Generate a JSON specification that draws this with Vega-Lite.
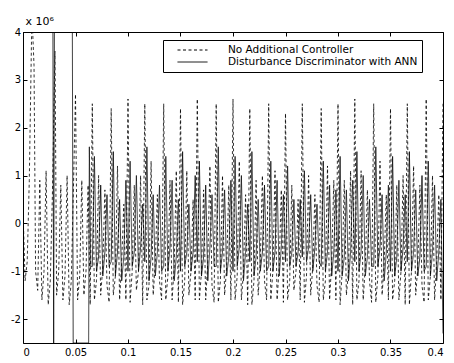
{
  "$schema": "https://vega.github.io/schema/vega-lite/v6.json",
  "width": 420,
  "height": 311,
  "autosize": {"type": "none"},
  "padding": {"left": 23, "top": 32, "right": 11, "bottom": 20},
  "background": "#ffffff",
  "datasets": {
    "nac": [
      {"x":0,"y":0.3},{"x":0.002,"y":-1.2},{"x":0.004,"y":-0.8},{"x":0.006,"y":0.9},{"x":0.0085,"y":4.4},{"x":0.0105,"y":3.3},{"x":0.012,"y":-1.0},{"x":0.014,"y":-1.4},{"x":0.016,"y":0.9},{"x":0.018,"y":-1.6},{"x":0.02,"y":-1.0},{"x":0.022,"y":1.1},{"x":0.024,"y":-1.7},{"x":0.026,"y":-1.2},{"x":0.028,"y":0.6},{"x":0.0305,"y":3.6},{"x":0.032,"y":-1.5},{"x":0.034,"y":-1.0},{"x":0.036,"y":0.8},{"x":0.038,"y":-1.6},{"x":0.04,"y":-1.1},{"x":0.042,"y":1.0},{"x":0.044,"y":-1.7},{"x":0.046,"y":-1.2},{"x":0.048,"y":0.7},{"x":0.05,"y":2.7},{"x":0.052,"y":-1.6},{"x":0.054,"y":-1.1},{"x":0.056,"y":0.9},{"x":0.058,"y":-1.5},{"x":0.06,"y":-1.0},{"x":0.062,"y":0.8},{"x":0.064,"y":-1.7},
      {"x":0.066,"y":2.5},{"x":0.068,"y":-1.6},{"x":0.07,"y":-1.2},{"x":0.072,"y":1.0},{"x":0.074,"y":-1.5},{"x":0.076,"y":-0.9},{"x":0.078,"y":0.7},{"x":0.08,"y":-1.3},{"x":0.082,"y":-1.65},
      {"x":0.084,"y":2.4},{"x":0.086,"y":-1.5},{"x":0.088,"y":-1.1},{"x":0.09,"y":1.2},{"x":0.092,"y":-1.6},{"x":0.094,"y":-0.8},{"x":0.096,"y":0.4},{"x":0.098,"y":-1.6},
      {"x":0.1,"y":2.6},{"x":0.102,"y":-1.65},{"x":0.104,"y":-1.0},{"x":0.106,"y":0.8},{"x":0.108,"y":-1.4},{"x":0.11,"y":-1.0},{"x":0.112,"y":1.0},{"x":0.114,"y":-1.7},
      {"x":0.116,"y":2.5},{"x":0.118,"y":-1.6},{"x":0.12,"y":-1.3},{"x":0.122,"y":1.3},{"x":0.124,"y":-1.5},{"x":0.126,"y":-0.8},{"x":0.128,"y":0.6},{"x":0.13,"y":-1.2},{"x":0.132,"y":-1.6},
      {"x":0.134,"y":2.5},{"x":0.136,"y":-1.6},{"x":0.138,"y":-1.1},{"x":0.14,"y":0.9},{"x":0.142,"y":-1.6},{"x":0.144,"y":-0.9},{"x":0.146,"y":1.1},{"x":0.148,"y":-1.65},
      {"x":0.15,"y":2.4},{"x":0.152,"y":-1.7},{"x":0.154,"y":-1.2},{"x":0.156,"y":1.1},{"x":0.158,"y":-1.5},{"x":0.16,"y":-1.0},{"x":0.162,"y":0.5},{"x":0.164,"y":-1.6},
      {"x":0.166,"y":2.6},{"x":0.168,"y":-1.6},{"x":0.17,"y":-1.0},{"x":0.172,"y":0.7},{"x":0.174,"y":-1.6},{"x":0.176,"y":-0.8},{"x":0.178,"y":1.2},{"x":0.18,"y":-1.3},{"x":0.182,"y":-1.65},
      {"x":0.184,"y":2.5},{"x":0.186,"y":-1.65},{"x":0.188,"y":-1.2},{"x":0.19,"y":1.0},{"x":0.192,"y":-1.5},{"x":0.194,"y":-0.9},{"x":0.196,"y":0.8},{"x":0.198,"y":-1.6},
      {"x":0.2,"y":2.6},{"x":0.202,"y":-1.6},{"x":0.204,"y":-1.1},{"x":0.206,"y":1.3},{"x":0.208,"y":-1.6},{"x":0.21,"y":-1.0},{"x":0.212,"y":0.6},{"x":0.214,"y":-1.7},
      {"x":0.216,"y":2.4},{"x":0.218,"y":-1.7},{"x":0.22,"y":-1.2},{"x":0.222,"y":0.9},{"x":0.224,"y":-1.5},{"x":0.226,"y":-0.8},{"x":0.228,"y":1.0},{"x":0.23,"y":-1.2},{"x":0.232,"y":-1.6},
      {"x":0.234,"y":2.5},{"x":0.236,"y":-1.6},{"x":0.238,"y":-1.0},{"x":0.24,"y":1.1},{"x":0.242,"y":-1.6},{"x":0.244,"y":-0.9},{"x":0.246,"y":0.7},{"x":0.248,"y":-1.65},
      {"x":0.25,"y":2.3},{"x":0.252,"y":-1.6},{"x":0.254,"y":-1.2},{"x":0.256,"y":0.8},{"x":0.258,"y":-1.4},{"x":0.26,"y":-1.0},{"x":0.262,"y":0.5},{"x":0.264,"y":-1.6},
      {"x":0.266,"y":2.5},{"x":0.268,"y":-1.65},{"x":0.27,"y":-1.1},{"x":0.272,"y":1.0},{"x":0.274,"y":-1.5},{"x":0.276,"y":-0.9},{"x":0.278,"y":0.6},{"x":0.28,"y":-1.3},{"x":0.282,"y":-1.65},
      {"x":0.284,"y":2.4},{"x":0.286,"y":-1.6},{"x":0.288,"y":-1.2},{"x":0.29,"y":1.2},{"x":0.292,"y":-1.6},{"x":0.294,"y":-0.8},{"x":0.296,"y":0.9},{"x":0.298,"y":-1.6},
      {"x":0.3,"y":2.5},{"x":0.302,"y":-1.7},{"x":0.304,"y":-1.0},{"x":0.306,"y":0.9},{"x":0.308,"y":-1.5},{"x":0.31,"y":-1.0},{"x":0.312,"y":1.1},{"x":0.314,"y":-1.7},
      {"x":0.316,"y":2.6},{"x":0.318,"y":-1.6},{"x":0.32,"y":-1.2},{"x":0.322,"y":1.1},{"x":0.324,"y":-1.6},{"x":0.326,"y":-0.9},{"x":0.328,"y":0.7},{"x":0.33,"y":-1.2},{"x":0.332,"y":-1.65},
      {"x":0.334,"y":2.5},{"x":0.336,"y":-1.65},{"x":0.338,"y":-1.1},{"x":0.34,"y":1.3},{"x":0.342,"y":-1.5},{"x":0.344,"y":-0.8},{"x":0.346,"y":0.6},{"x":0.348,"y":-1.6},
      {"x":0.35,"y":2.4},{"x":0.352,"y":-1.6},{"x":0.354,"y":-1.2},{"x":0.356,"y":0.8},{"x":0.358,"y":-1.6},{"x":0.36,"y":-1.0},{"x":0.362,"y":1.0},{"x":0.364,"y":-1.7},
      {"x":0.366,"y":2.5},{"x":0.368,"y":-1.7},{"x":0.37,"y":-1.0},{"x":0.372,"y":1.2},{"x":0.374,"y":-1.5},{"x":0.376,"y":-0.9},{"x":0.378,"y":0.8},{"x":0.38,"y":-1.3},{"x":0.382,"y":-1.65},
      {"x":0.384,"y":2.6},{"x":0.386,"y":-1.6},{"x":0.388,"y":-1.1},{"x":0.39,"y":1.0},{"x":0.392,"y":-1.6},{"x":0.394,"y":-0.8},{"x":0.396,"y":0.6},{"x":0.398,"y":-1.6},{"x":0.4,"y":2.5}
    ],
    "dda": [
      {"x":0,"y":4.0},{"x":0.0285,"y":4.0},{"x":0.0292,"y":-2.5},{"x":0.0299,"y":4.0},{"x":0.047,"y":4.0},{"x":0.0478,"y":-2.5},{"x":0.0625,"y":-2.5},{"x":0.0632,"y":1.6},{"x":0.0645,"y":-0.9},
      {"x":0.066,"y":-0.9},{"x":0.068,"y":1.4},{"x":0.07,"y":-1.0},{"x":0.072,"y":-0.7},{"x":0.074,"y":0.8},{"x":0.076,"y":-1.1},{"x":0.078,"y":-0.6},{"x":0.08,"y":0.6},{"x":0.082,"y":-0.9},
      {"x":0.084,"y":-0.8},{"x":0.086,"y":1.5},{"x":0.088,"y":-1.1},{"x":0.09,"y":-0.6},{"x":0.092,"y":0.5},{"x":0.094,"y":-1.2},{"x":0.096,"y":-0.7},{"x":0.098,"y":0.9},
      {"x":0.1,"y":-1.0},{"x":0.102,"y":1.3},{"x":0.104,"y":-0.9},{"x":0.106,"y":-0.6},{"x":0.108,"y":1.0},{"x":0.11,"y":-1.0},{"x":0.112,"y":-0.5},{"x":0.114,"y":0.4},
      {"x":0.116,"y":-0.8},{"x":0.118,"y":1.6},{"x":0.12,"y":-1.2},{"x":0.122,"y":-0.7},{"x":0.124,"y":0.6},{"x":0.126,"y":-1.1},{"x":0.128,"y":-0.6},{"x":0.13,"y":0.8},{"x":0.132,"y":-1.0},
      {"x":0.134,"y":-0.9},{"x":0.136,"y":1.4},{"x":0.138,"y":-1.0},{"x":0.14,"y":-0.5},{"x":0.142,"y":0.9},{"x":0.144,"y":-1.2},{"x":0.146,"y":-0.7},{"x":0.148,"y":0.5},
      {"x":0.15,"y":-1.0},{"x":0.152,"y":1.5},{"x":0.154,"y":-0.9},{"x":0.156,"y":-0.6},{"x":0.158,"y":0.4},{"x":0.16,"y":-1.0},{"x":0.162,"y":-0.6},{"x":0.164,"y":1.0},
      {"x":0.166,"y":-0.8},{"x":0.168,"y":1.3},{"x":0.17,"y":-1.1},{"x":0.172,"y":-0.7},{"x":0.174,"y":0.8},{"x":0.176,"y":-1.2},{"x":0.178,"y":-0.5},{"x":0.18,"y":0.6},{"x":0.182,"y":-0.9},
      {"x":0.184,"y":-0.9},{"x":0.186,"y":1.6},{"x":0.188,"y":-1.0},{"x":0.19,"y":-0.6},{"x":0.192,"y":0.7},{"x":0.194,"y":-1.1},{"x":0.196,"y":-0.7},{"x":0.198,"y":0.9},
      {"x":0.2,"y":-1.0},{"x":0.202,"y":1.4},{"x":0.204,"y":-0.9},{"x":0.206,"y":-0.5},{"x":0.208,"y":1.0},{"x":0.21,"y":-1.2},{"x":0.212,"y":-0.6},{"x":0.214,"y":0.4},
      {"x":0.216,"y":-0.8},{"x":0.218,"y":1.5},{"x":0.22,"y":-1.1},{"x":0.222,"y":-0.7},{"x":0.224,"y":0.5},{"x":0.226,"y":-1.0},{"x":0.228,"y":-0.6},{"x":0.23,"y":0.8},{"x":0.232,"y":-1.0},
      {"x":0.234,"y":-0.9},{"x":0.236,"y":1.3},{"x":0.238,"y":-1.0},{"x":0.24,"y":-0.6},{"x":0.242,"y":0.9},{"x":0.244,"y":-1.1},{"x":0.246,"y":-0.5},{"x":0.248,"y":0.6},
      {"x":0.25,"y":-0.8},{"x":0.252,"y":1.2},{"x":0.254,"y":-0.9},{"x":0.256,"y":-0.6},{"x":0.258,"y":0.5},{"x":0.26,"y":-0.9},{"x":0.262,"y":-0.6},{"x":0.264,"y":0.5},
      {"x":0.266,"y":-0.7},{"x":0.268,"y":1.1},{"x":0.27,"y":-0.8},{"x":0.272,"y":-0.5},{"x":0.274,"y":0.6},{"x":0.276,"y":-1.0},{"x":0.278,"y":-0.5},{"x":0.28,"y":0.4},{"x":0.282,"y":-0.8},
      {"x":0.284,"y":-0.9},{"x":0.286,"y":1.3},{"x":0.288,"y":-1.0},{"x":0.29,"y":-0.6},{"x":0.292,"y":0.8},{"x":0.294,"y":-1.1},{"x":0.296,"y":-0.6},{"x":0.298,"y":0.7},
      {"x":0.3,"y":-1.0},{"x":0.302,"y":1.4},{"x":0.304,"y":-1.1},{"x":0.306,"y":-0.7},{"x":0.308,"y":0.7},{"x":0.31,"y":-1.2},{"x":0.312,"y":-0.6},{"x":0.314,"y":0.9},
      {"x":0.316,"y":-0.8},{"x":0.318,"y":1.5},{"x":0.32,"y":-1.0},{"x":0.322,"y":-0.6},{"x":0.324,"y":1.0},{"x":0.326,"y":-1.1},{"x":0.328,"y":-0.7},{"x":0.33,"y":0.5},{"x":0.332,"y":-0.9},
      {"x":0.334,"y":-0.9},{"x":0.336,"y":1.6},{"x":0.338,"y":-0.9},{"x":0.34,"y":-0.5},{"x":0.342,"y":0.6},{"x":0.344,"y":-1.2},{"x":0.346,"y":-0.6},{"x":0.348,"y":0.8},
      {"x":0.35,"y":-1.0},{"x":0.352,"y":1.4},{"x":0.354,"y":-1.1},{"x":0.356,"y":-0.7},{"x":0.358,"y":0.9},{"x":0.36,"y":-1.0},{"x":0.362,"y":-0.5},{"x":0.364,"y":0.6},
      {"x":0.366,"y":-0.8},{"x":0.368,"y":1.5},{"x":0.37,"y":-1.0},{"x":0.372,"y":-0.6},{"x":0.374,"y":0.7},{"x":0.376,"y":-1.1},{"x":0.378,"y":-0.7},{"x":0.38,"y":1.0},{"x":0.382,"y":-1.0},
      {"x":0.384,"y":-0.9},{"x":0.386,"y":1.3},{"x":0.388,"y":-1.1},{"x":0.39,"y":-0.6},{"x":0.392,"y":0.8},{"x":0.394,"y":-1.2},{"x":0.396,"y":-0.6},{"x":0.398,"y":0.5},{"x":0.4,"y":-2.3}
    ]
  },
  "layer": [
    {
      "data": {"name": "nac"},
      "mark": {"type": "line", "clip": true, "color": "#000000", "strokeWidth": 0.8, "interpolate": "linear"},
      "encoding": {
        "x": {"field": "x", "type": "quantitative", "scale": {"domain": [0, 0.4], "nice": false, "zero": false},
              "axis": {"orient": "bottom", "values": [0, 0.05, 0.1, 0.15, 0.2, 0.25, 0.3, 0.35, 0.4], "format": "~g", "title": null, "labelPadding": 8}},
        "y": {"field": "y", "type": "quantitative", "scale": {"domain": [-2.5, 4], "nice": false, "zero": false},
              "axis": {"orient": "left", "values": [-2, -1, 0, 1, 2, 3, 4], "format": "d", "labelExpr": "replace(datum.label, '\u2212', '-')", "labelPadding": 6.5,
                       "title": "x 10\u2076", "titleAngle": 0, "titleAlign": "left", "titleBaseline": "alphabetic", "titleX": 2, "titleY": -8, "titleFontSize": 11, "titleFontWeight": "normal"}},
        "strokeDash": {"datum": "No Additional Controller", "type": "nominal",
                       "scale": {"domain": ["No Additional Controller", "Disturbance Discriminator with ANN"], "range": [[3, 2.5], [1, 0]]},
                       "legend": {"title": null, "orient": "none", "legendX": 140, "legendY": 8, "symbolType": "stroke", "symbolSize": 900, "symbolStrokeWidth": 1, "symbolStrokeColor": "#000000", "clipHeight": 12, "padding": 4, "symbolOffset": 10, "labelOffset": 20, "labelFontSize": 10.5, "labelLimit": 400, "labelColor": "#000000", "strokeColor": "#000000", "fillColor": "#ffffff", "rowPadding": 0}}
      }
    },
    {
      "data": {"name": "dda"},
      "mark": {"type": "line", "clip": true, "color": "#000000", "strokeWidth": 0.8, "interpolate": "linear"},
      "encoding": {
        "x": {"field": "x", "type": "quantitative", "scale": {"domain": [0, 0.4], "nice": false, "zero": false},
              "axis": {"orient": "top", "values": [0, 0.05, 0.1, 0.15, 0.2, 0.25, 0.3, 0.35, 0.4], "labels": false, "title": null}},
        "y": {"field": "y", "type": "quantitative", "scale": {"domain": [-2.5, 4], "nice": false, "zero": false},
              "axis": {"orient": "right", "values": [-2, -1, 0, 1, 2, 3, 4], "labels": false, "title": null}},
        "strokeDash": {"datum": "Disturbance Discriminator with ANN", "type": "nominal"}
      }
    }
  ],
  "resolve": {"axis": {"x": "independent", "y": "independent"}},
  "config": {
    "font": "DejaVu Sans",
    "view": {"stroke": "#000000", "strokeWidth": 1},
    "axis": {"grid": false, "domain": false, "tickSize": -4, "tickColor": "#000000", "tickWidth": 1, "labelFontSize": 10, "labelColor": "#000000", "titleColor": "#000000"}
  }
}
